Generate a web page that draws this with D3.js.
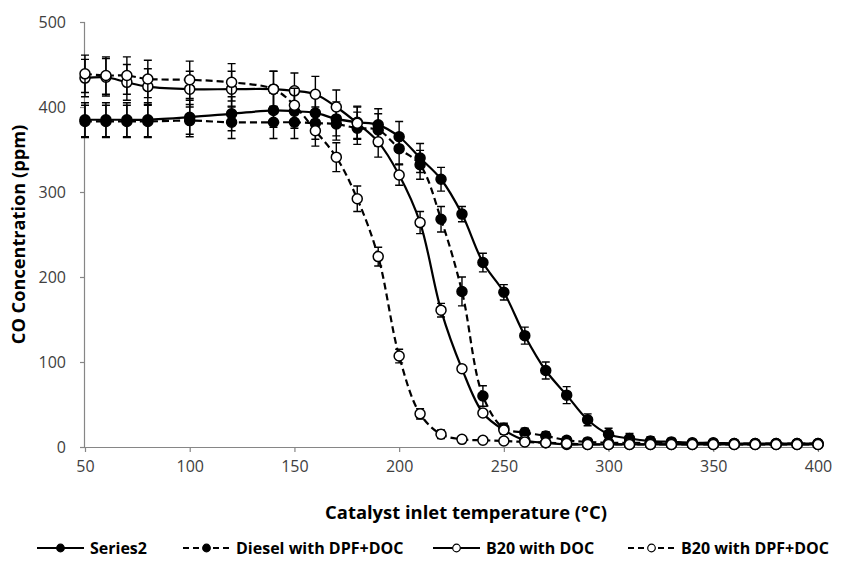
<!DOCTYPE html>
<html>
<head>
<meta charset="utf-8">
<script src="https://cdn.jsdelivr.net/npm/d3@7"></script>
<style>
  html, body { margin: 0; padding: 0; background: #fff; }
  svg { display: block; font-family: "Open Sans", "Liberation Sans", sans-serif; }
</style>
</head>
<body>
<svg id="chart" width="848" height="565"></svg>
<script>
// Catalyst inlet temperatures (°C)
const temperatures = [50, 60, 70, 80, 100, 120, 140, 150, 160, 170, 180, 190, 200, 210, 220, 230, 240,
  250, 260, 270, 280, 290, 300, 310, 320, 330, 340, 350, 360, 370, 380, 390, 400];

// CO concentration (ppm) per series, with error bar half-widths
const series2 = [385, 385, 385, 385, 388, 392, 396, 395, 393, 386, 382, 379, 365, 340, 315, 274, 217,
  182, 131, 90, 61, 32, 15, 10, 7, 6, 5, 5, 4, 4, 4, 4, 4];
const series2Err = [20, 20, 20, 20, 20, 20, 20, 20, 20, 20, 19, 19, 18, 17, 14, 9, 11,
  9, 10, 10, 10, 7, 7, 6, 5, 4, 4, 4, 4, 4, 4, 4, 4];

const dieselDpfDoc = [383, 383, 383, 383, 384, 382, 382, 382, 381, 380, 375, 373, 351, 332, 268, 183, 60,
  22, 17, 13, 8, 6, 5, 5, 5, 5, 4, 4, 4, 4, 4, 4, 4];
const dieselDpfDocErr = [19, 19, 19, 19, 19, 19, 19, 19, 19, 19, 19, 19, 18, 17, 15, 17, 12,
  6, 5, 5, 4, 4, 4, 4, 4, 4, 4, 4, 4, 4, 4, 4, 4];

const b20Doc = [434, 435, 429, 424, 421, 421, 421, 419, 415, 400, 381, 359, 320, 264, 161, 92, 40,
  20, 8, 5, 3, 3, 3, 3, 3, 3, 3, 3, 3, 3, 3, 3, 3];
const b20DocErr = [22, 22, 21, 21, 21, 21, 21, 21, 21, 20, 19, 18, 12, 13, 8, 4, 4,
  5, 3, 3, 2, 2, 2, 2, 2, 2, 2, 2, 2, 2, 2, 2, 2];

const b20DpfDoc = [439, 437, 437, 433, 432, 429, 421, 402, 372, 341, 292, 224, 107, 39, 15, 9, 8,
  7, 6, 5, 4, 3, 3, 3, 3, 3, 3, 3, 3, 3, 3, 3, 3];
const b20DpfDocErr = [22, 22, 22, 22, 22, 22, 21, 20, 18, 17, 15, 11, 8, 6, 5, 3, 3,
  3, 3, 3, 3, 3, 3, 3, 3, 3, 3, 3, 3, 3, 3, 3, 3];

const seriesNames = ["Series2", "Diesel with DPF+DOC", "B20 with DOC", "B20 with DPF+DOC"];
const xTicks = [50, 100, 150, 200, 250, 300, 350, 400];
const yTicks = [0, 100, 200, 300, 400, 500];

const seriesList = [
  { name: seriesNames[0], values: series2, err: series2Err, dashed: false, filled: true },
  { name: seriesNames[1], values: dieselDpfDoc, err: dieselDpfDocErr, dashed: true, filled: true },
  { name: seriesNames[2], values: b20Doc, err: b20DocErr, dashed: false, filled: false },
  { name: seriesNames[3], values: b20DpfDoc, err: b20DpfDocErr, dashed: true, filled: false }
];

const svg = d3.select("#chart");
const plot = { left: 85, right: 818, top: 22, bottom: 447 };

const x = d3.scaleLinear().domain([50, 400]).range([plot.left, plot.right]);
const y = d3.scaleLinear().domain([0, 500]).range([plot.bottom, plot.top]);

const axisColor = "#868686";
const labelColor = "#404040";

// Y axis
const yAxis = svg.append("g")
  .attr("transform", `translate(${plot.left},0)`)
  .call(d3.axisLeft(y).tickValues(yTicks).tickSize(5).tickPadding(14).tickFormat(d3.format("d")));
// X axis
const xAxis = svg.append("g")
  .attr("transform", `translate(0,${plot.bottom})`)
  .call(d3.axisBottom(x).tickValues(xTicks).tickSize(5).tickPadding(9).tickFormat(d3.format("d")));

[yAxis, xAxis].forEach(g => {
  g.select(".domain").attr("stroke", axisColor).attr("stroke-width", 1.2);
  g.selectAll(".tick line").attr("stroke", axisColor).attr("stroke-width", 1.2);
  g.selectAll(".tick text")
    .attr("fill", labelColor)
    .style("font-size", "16px")
    .style("font-family", "\"Open Sans\", sans-serif");
});
yAxis.select(".domain").attr("d", `M-0.5,${plot.top}V${plot.bottom}`);
xAxis.select(".domain").attr("d", `M${plot.left},0.5H${plot.right}`);

// Axis titles
svg.append("text")
  .attr("x", 466)
  .attr("y", 511)
  .attr("text-anchor", "middle")
  .attr("dominant-baseline", "central")
  .attr("fill", "#000")
  .style("font-size", "18.4px")
  .style("font-weight", "bold")
  .text("Catalyst inlet temperature (°C)");

svg.append("text")
  .attr("transform", `translate(18,${(plot.top + plot.bottom) / 2}) rotate(-90)`)
  .attr("text-anchor", "middle")
  .attr("dominant-baseline", "central")
  .attr("fill", "#000")
  .style("font-size", "18.2px")
  .style("font-weight", "bold")
  .text("CO Concentration (ppm)");

// Series: error bars, smoothed line, markers
const line = d3.line()
  .x(d => x(d.t))
  .y(d => y(d.v))
  .curve(d3.curveCatmullRom.alpha(0.5));

const capHalf = 4;
seriesList.forEach(s => {
  const pts = temperatures.map((t, i) => ({ t, v: s.values[i], e: s.err[i] }));
  const g = svg.append("g");

  const eb = g.append("g").attr("stroke", "#000").attr("stroke-width", 1.4);
  eb.selectAll("path").data(pts).join("path")
    .attr("fill", "none")
    .attr("d", d => {
      const cx = x(d.t), y1 = y(d.v + d.e), y2 = y(d.v - d.e);
      return `M${cx},${y1}V${y2}M${cx - capHalf},${y1}H${cx + capHalf}M${cx - capHalf},${y2}H${cx + capHalf}`;
    });

  g.append("path")
    .datum(pts)
    .attr("fill", "none")
    .attr("stroke", "#000")
    .attr("stroke-width", 2.2)
    .attr("stroke-dasharray", s.dashed ? "7,4" : null)
    .attr("d", line);

  g.selectAll("circle").data(pts).join("circle")
    .attr("cx", d => x(d.t))
    .attr("cy", d => y(d.v))
    .attr("r", 5)
    .attr("fill", s.filled ? "#000" : "#fff")
    .attr("stroke", "#000")
    .attr("stroke-width", 1.5);
});

// Legend
const legendY = 548;
const legendStarts = [37, 183, 433, 628];
seriesList.forEach((s, i) => {
  const g = svg.append("g").attr("transform", `translate(${legendStarts[i]},${legendY})`);
  g.append("line")
    .attr("x1", 0).attr("x2", 47).attr("y1", 0).attr("y2", 0)
    .attr("stroke", "#000").attr("stroke-width", 2.2)
    .attr("stroke-dasharray", s.dashed ? "6,4" : null);
  g.append("circle")
    .attr("cx", 23.5).attr("cy", 0).attr("r", 3.8)
    .attr("fill", s.filled ? "#000" : "#fff")
    .attr("stroke", "#000").attr("stroke-width", 1.2);
  g.append("text")
    .attr("x", 53).attr("y", 0)
    .attr("dominant-baseline", "central")
    .attr("fill", "#000")
    .style("font-size", "16px")
    .style("font-weight", "bold")
    .text(s.name);
});
</script>
</body>
</html>
